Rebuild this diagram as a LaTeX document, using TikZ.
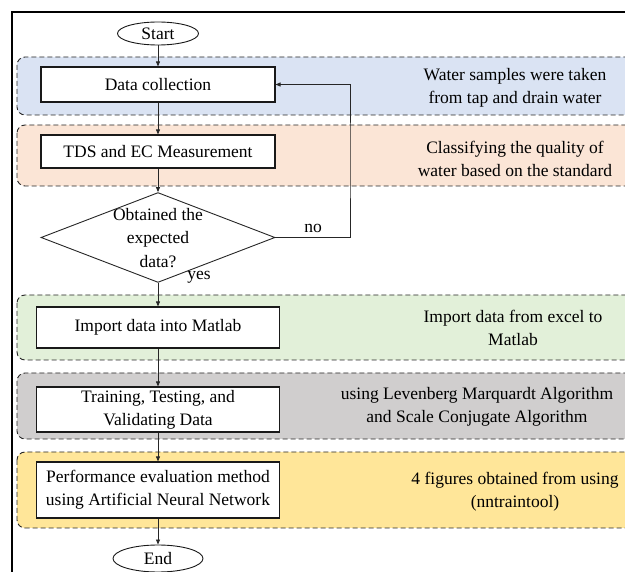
\documentclass[tikz,border=0pt]{standalone}
\usepackage{fontspec}
\setmainfont{Liberation Serif}
\usetikzlibrary{shapes.geometric, arrows.meta}

\definecolor{bandblue}{HTML}{DAE3F3}
\definecolor{bandorange}{HTML}{FBE5D6}
\definecolor{bandgreen}{HTML}{E2F0D9}
\definecolor{bandgray}{HTML}{D0CECE}
\definecolor{bandyellow}{HTML}{FFE699}

\tikzset{
    band/.style={draw=black!85, line width=0.9pt, dash pattern=on 5pt off 3pt, rounded corners=8pt},
    process/.style={draw=black!90, line width=1.1pt, fill=white, align=center, inner sep=0pt},
    terminal/.style={draw=black!90, ellipse, line width=0.9pt, fill=white, inner sep=0pt},
    decision/.style={draw=black!85, diamond, line width=0.9pt, fill=white, inner sep=0pt,
        minimum width=234pt, minimum height=85pt},
    note/.style={align=center, inner sep=0pt},
    flow/.style={draw=black!85, line width=0.8pt, -{Triangle[length=5pt, width=4pt]}},
}

\begin{document}
\begin{tikzpicture}[x=1pt, y=-1pt, font=\fontsize{17.5}{23}\selectfont]
    \useasboundingbox (0, 0) rectangle (625, 572);
    \clip (0, 0) rectangle (625, 572);

    % outer frame
    \draw[line width=1.2pt] (640, 12) -- (12, 12) -- (12, 590);

    % background bands
    \draw[band, fill=bandblue] (17, 57) rectangle (650, 115);
    \draw[band, fill=bandorange] (17, 125) rectangle (650, 186);
    \draw[band, fill=bandgreen] (17, 295) rectangle (650, 360);
    \draw[band, fill=bandgray] (17, 373) rectangle (650, 439);
    \draw[band, fill=bandyellow] (17, 452) rectangle (650, 528);

    % flow nodes
    \node[terminal, minimum width=81pt, minimum height=23pt] (start) at (158, 33.5) {Start};
    \node[process, minimum width=234pt, minimum height=35pt] (collect) at (158, 84.5) {Data collection};
    \node[process, minimum width=234pt, minimum height=33pt] (measure) at (158, 151.5) {TDS and EC Measurement};
    \node[decision] (check) at (158, 237.5)
        {\raisebox{-6pt}[0pt][0pt]{\renewcommand{\arraystretch}{1.03}%
        \begin{tabular}{@{}c@{}}Obtained the\\expected\\data?\end{tabular}}};
    \node[process, minimum width=243pt, minimum height=41pt] (import) at (158, 327.5) {Import data into Matlab};
    \node[process, minimum width=243pt, minimum height=45pt] (train) at (158, 409.5)
        {Training, Testing, and\\Validating Data};
    \node[process, minimum width=243pt, minimum height=56pt] (evaluate) at (158, 490)
        {Performance evaluation method\\using Artificial Neural Network};
    \node[terminal, minimum width=90pt, minimum height=27pt] (end) at (158, 558.5) {End};

    % notes on the right
    \node[note] (collectnote) at (515, 87.5) {Water samples were taken\\from tap and drain water};
    \node[note] (measurenote) at (515, 158.5) {Classifying the quality of\\water based on the standard};
    \node[note] (importnote) at (513, 327.5) {Import data from excel to\\Matlab};
    \node[note] (trainnote) at (477, 406.5) {using Levenberg Marquardt Algorithm\\and Scale Conjugate Algorithm};
    \node[note] (evaluatenote) at (515, 492) {4 figures obtained from using\\(nntraintool)};

    % connectors
    \coordinate (loop) at (350, 160);
    \draw[flow] (start) -- (collect);
    \draw[flow] (collect) -- (measure);
    \draw[flow] (measure) -- (check);
    \draw[flow] (check) -- (import);
    \draw[flow] (import) -- (train);
    \draw[flow] (train) -- (evaluate);
    \draw[flow] (evaluate) -- (end);
    \draw[flow] (check.east) -| (loop) |- (collect.east);

    \node (nolabel) at (313, 228) {no};
    \node (yeslabel) at (199, 277) {yes};
\end{tikzpicture}
\end{document}
